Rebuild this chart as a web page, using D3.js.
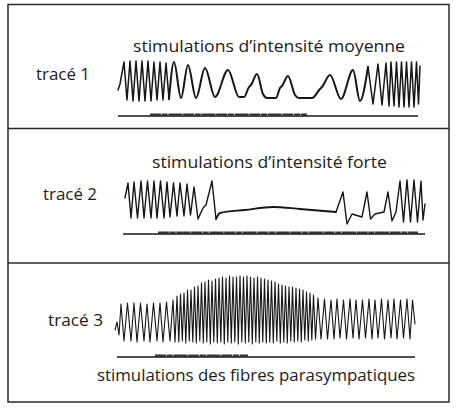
<!DOCTYPE html>
<html>
<head>
<meta charset="utf-8">
<script src="https://cdn.jsdelivr.net/npm/d3@7"></script>
<style>
  html, body { margin: 0; padding: 0; background: #fff; }
  svg { display: block; }
  text { font-family: "Open Sans", sans-serif; fill: #1c1c1c; }
</style>
</head>
<body>
<svg id="chart" width="456" height="408"></svg>
<script>
// Trace 1: medium-intensity stimulation (time units, amplitude units)
const trace1Time = [0, 2, 6, 9, 12, 15, 18, 21, 24, 27, 30, 33, 36, 39, 42, 45, 48, 51,
  56, 63, 70, 78, 87, 97, 110, 121, 126, 131, 133, 139, 145, 149, 158, 162, 164, 170,
  177, 181, 194, 202, 204, 212, 223, 235, 242, 250, 255, 260, 264, 268, 271, 273, 276,
  278.5, 281, 283.5, 286, 288.5, 291, 293.5, 296, 298.5, 300.5, 302];
const trace1Value = [18, 24, 46, 8, 47, 7, 47, 7, 47, 7, 47, 7, 46, 8, 46, 8, 45, 9,
  46, 10, 43, 10, 40, 11, 38, 11, 11, 21, 23, 34, 14, 10, 10, 20, 22, 32,
  13, 10, 10, 19, 21, 33, 9, 38, 7, 41, 4, 44, 3, 45, 2, 46, 2,
  46, 1, 46, 1, 46, 1, 46, 1, 46, 4, 42];

// Trace 2: strong stimulation
const trace2Time = [0, 3, 6, 9, 12.5, 16, 19, 22.5, 26, 29, 32, 35.5, 39, 42, 45, 48.5,
  52, 55, 59, 62, 65.5, 69, 73, 78, 81, 87, 91, 95, 120, 148, 175, 211, 218, 222, 227,
  237, 242, 245.5, 250, 259, 263, 267, 271, 275, 278.5, 282, 285.5, 289, 292.5, 296,
  298, 300];
const trace2Value = [28, 43, 8, 44, 8, 45, 8, 45, 8, 45, 8, 45, 8, 44, 9, 43,
  10, 43, 10, 42, 11, 39, 7, 18, 21, 45, 7, 13, 16, 19, 17, 14, 34, 2, 12,
  9, 34, 7, 12, 14, 34, 5, 14, 45, 4, 46, 4, 46, 4, 45,
  6, 22];

// Trace 3: parasympathetic fibre stimulation
const trace3Time = [0, 2, 4, 6, 9, 12.5, 16, 19, 22, 25.5, 29, 32, 35, 38.5, 42, 45, 48,
  51.5, 55, 58, 60,
  62, 63.8, 65.5, 67.3, 69, 70.8, 72.5, 74.3, 76, 77.8, 79.5, 81.3, 83, 84.8, 86.5, 88.3,
  90, 91.8, 93.5, 95.3, 97, 98.8, 100.5, 102.3, 104, 105.8, 107.5, 109.3, 111, 112.8,
  114.5, 116.3, 118, 119.8, 121.5, 123.3, 125, 126.8, 128.5, 130.3, 132, 133.8, 135.5,
  137.3, 139, 140.8, 142.5, 144.3, 146, 147.8, 149.5, 151.3, 153, 154.8, 156.5, 158.3,
  160, 161.8, 163.5, 165.3, 167, 168.8, 170.5, 172.3, 174, 175.8, 177.5, 179.3, 181,
  182.8, 184.5, 186.3, 188, 189.8, 191.5, 193.3, 195, 196.8, 198.5, 200.5,
  203, 206, 209.5, 212.5, 216, 219, 222, 225, 228.5, 231.5, 235, 238, 241, 244, 247.5,
  250.5, 254, 257, 260, 263, 266.5, 269.5, 273, 276, 279, 282, 285.5, 288.5, 292, 295,
  297.5, 300];
const trace3Value = [18, 26, 13, 44, 7, 45, 7, 45, 6, 45, 7, 44, 6, 45, 7, 45, 6,
  46, 7, 48, 6,
  52, 6, 54, 7, 55, 5, 58, 7, 58, 6, 61, 5, 62, 7, 65, 5,
  66, 6, 68, 4, 67, 6, 69, 5, 70, 6, 71, 4, 70, 6,
  72, 5, 71, 6, 71, 4, 72, 6, 71, 5, 72, 6, 71,
  4, 70, 6, 71, 5, 70, 6, 69, 5, 68, 6, 67, 5,
  66, 7, 64, 5, 63, 6, 62, 5, 61, 7, 61, 6, 60,
  7, 59, 6, 58, 8, 56, 7, 55, 8, 53, 9,
  50, 9, 49, 9, 48, 9, 49, 10, 48, 9, 49, 10, 48, 9, 48,
  10, 49, 9, 48, 10, 49, 9, 48, 10, 49, 9, 48, 10, 49, 9,
  48, 24];

// stretches of each trace that are slow, rounded waves (the rest are sharp spikes)
const trace1SlowSpans = [[51, 250]];
const trace2SlowSpans = [[91, 211]];
const trace3SlowSpans = [];

const panelTitles = ["stimulations d’intensité moyenne",
                     "stimulations d’intensité forte",
                     "stimulations des fibres parasympatiques"];
const traceLabels = ["tracé 1", "tracé 2", "tracé 3"];
// recording baseline and stimulation period, in each trace's time units
const baselineStart = [0, -2, 2];
const baselineEnd = [300, 300, 300];
const stimStart = [32, 33, 40];
const stimEnd = [189, 293, 133];

const traces = [
  { time: trace1Time, value: trace1Value, slow: trace1SlowSpans },
  { time: trace2Time, value: trace2Value, slow: trace2SlowSpans },
  { time: trace3Time, value: trace3Value, slow: trace3SlowSpans }
];

// page layout for each recording panel
const layout = [
  { x0: 118, x1: 420, tMax: 302, yBase: 108, markY: 116, titleX: 269, titleY: 52, titleW: 272,
    labelX: 36, labelY: 80, labelW: 54, fast: 1.5, slow: 2.0 },
  { x0: 125, x1: 425, tMax: 300, yBase: 226, markY: 234, titleX: 269.5, titleY: 168, titleW: 235,
    labelX: 43, labelY: 200, labelW: 54, fast: 1.4, slow: 1.8 },
  { x0: 115, x1: 415, tMax: 300, yBase: 348, markY: 357, titleX: 256, titleY: 381, titleW: 318,
    labelX: 48, labelY: 326, labelW: 55, fast: 1.1, slow: 1.1 }
];

const svg = d3.select("#chart");
const ink = "#161616";

// frame and panel separators
const frame = { left: 8, right: 449, top: 4.5, bottom: 402 };
const separators = [128.5, 263];
svg.append("rect")
  .attr("x", frame.left).attr("y", frame.top)
  .attr("width", frame.right - frame.left).attr("height", frame.bottom - frame.top)
  .attr("fill", "none").attr("stroke", "#2a2a2a").attr("stroke-width", 1.5);
svg.selectAll("line.sep").data(separators).join("line")
  .attr("class", "sep")
  .attr("x1", frame.left).attr("x2", frame.right)
  .attr("y1", d => d).attr("y2", d => d)
  .attr("stroke", "#2a2a2a").attr("stroke-width", 1.6);

// cut a trace into alternating sharp / rounded pieces sharing their end points
function pieces(pts, spans) {
  const out = [];
  let from = -Infinity;
  spans.forEach(([a, b]) => {
    out.push({ slow: false, pts: pts.filter(p => p.t >= from && p.t <= a) });
    out.push({ slow: true, pts: pts.filter(p => p.t >= a && p.t <= b) });
    from = b;
  });
  out.push({ slow: false, pts: pts.filter(p => p.t >= from) });
  return out.filter(o => o.pts.length > 1);
}

layout.forEach((L, i) => {
  const x = d3.scaleLinear().domain([0, L.tMax]).range([L.x0, L.x1]);
  const y = d3.scaleLinear().domain([0, 75]).range([L.yBase, L.yBase - 75]);
  const g = svg.append("g");

  const pts = traces[i].time.map((t, k) => ({ t, v: traces[i].value[k] }));
  const sharp = d3.line().x(d => x(d.t)).y(d => y(d.v)).curve(d3.curveLinear);
  const round = d3.line().x(d => x(d.t)).y(d => y(d.v)).curve(d3.curveMonotoneX);
  g.selectAll("path.trace").data(pieces(pts, traces[i].slow)).join("path")
    .attr("class", "trace")
    .attr("d", d => (d.slow ? round : sharp)(d.pts))
    .attr("fill", "none")
    .attr("stroke", ink)
    .attr("stroke-width", d => d.slow ? L.slow : L.fast)
    .attr("stroke-linejoin", "round")
    .attr("stroke-linecap", "round");

  // recording baseline with the stimulation signal
  g.append("line")
    .attr("x1", x(baselineStart[i])).attr("x2", x(baselineEnd[i]))
    .attr("y1", L.markY).attr("y2", L.markY)
    .attr("stroke", ink).attr("stroke-width", 1.3);
  g.append("line")
    .attr("x1", x(stimStart[i])).attr("x2", x(stimEnd[i]))
    .attr("y1", L.markY - 1.2).attr("y2", L.markY - 1.2)
    .attr("stroke", "#333").attr("stroke-width", 2.4)
    .attr("stroke-dasharray", "11 0.7 6 0.7 14 0.7");

  g.append("text")
    .attr("x", L.titleX).attr("y", L.titleY)
    .attr("text-anchor", "middle")
    .attr("font-size", 17)
    .attr("textLength", L.titleW).attr("lengthAdjust", "spacingAndGlyphs")
    .text(panelTitles[i]);
  g.append("text")
    .attr("x", L.labelX).attr("y", L.labelY)
    .attr("font-size", 17)
    .attr("textLength", L.labelW).attr("lengthAdjust", "spacingAndGlyphs")
    .text(traceLabels[i]);
});
</script>
</body>
</html>
